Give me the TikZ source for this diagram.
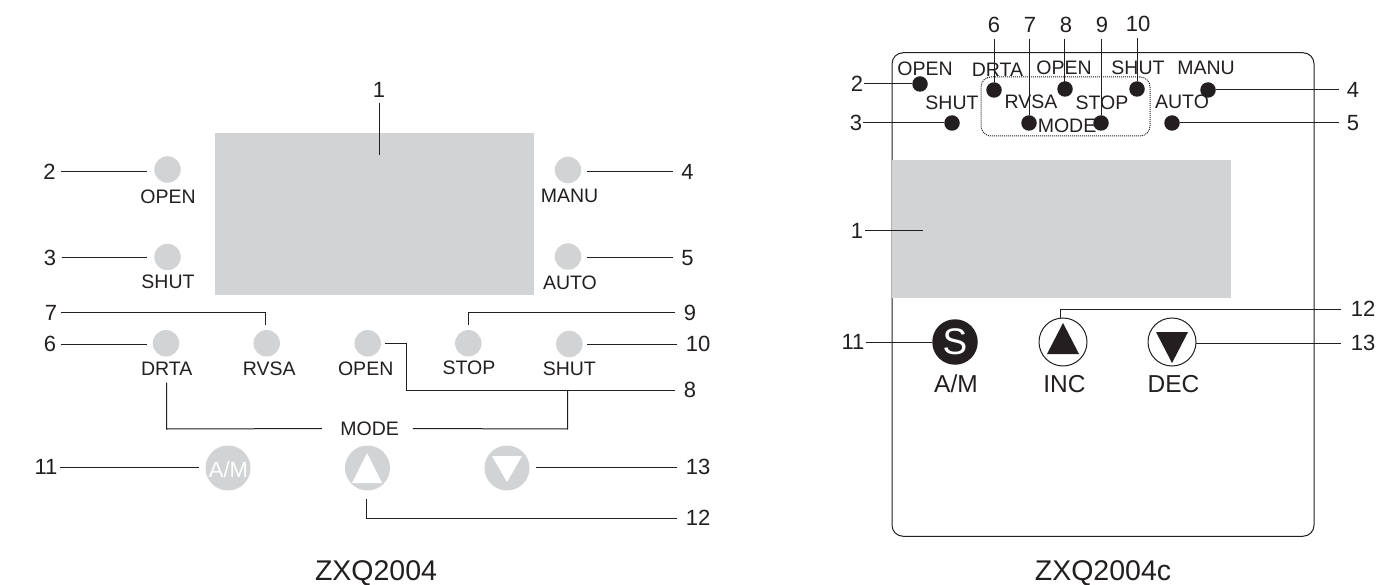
\documentclass[tikz,border=0pt]{standalone}
\usepackage{fontspec}
\setmainfont{Liberation Sans}
\definecolor{panelgray}{HTML}{D1D3D4}
\definecolor{ink}{HTML}{231F20}
\tikzset{
  txt/.style={inner sep=0pt,outer sep=0pt,text=ink,font=\fontsize{19.5}{19.5}\selectfont},
  bigt/.style={inner sep=0pt,outer sep=0pt,text=ink,font=\fontsize{24.5}{24.5}\selectfont},
  num/.style={inner sep=0pt,outer sep=0pt,text=ink,font=\fontsize{22}{22}\selectfont},
  captxt/.style={inner sep=0pt,outer sep=0pt,text=ink,font=\fontsize{28.5}{28.5}\selectfont},
  lead/.style={draw=ink,line width=1pt},
  ledg/.style={circle,fill=panelgray,minimum size=26.5pt,inner sep=0pt,outer sep=0pt},
  ledb/.style={circle,fill=ink,minimum size=15.5pt,inner sep=0pt,outer sep=0pt},
  btng/.style={circle,fill=panelgray,minimum size=45pt,inner sep=0pt,outer sep=0pt},
  btno/.style={circle,draw=ink,line width=1pt,fill=white,minimum size=48pt,inner sep=0pt,outer sep=0pt},
  screen/.style={fill=panelgray,draw=none,inner sep=0pt,outer sep=0pt}
}
\begin{document}
\begin{tikzpicture}[x=1pt,y=-1pt]
\useasboundingbox (0,0) rectangle (1394,585);
\fill[white] (0,0) rectangle (1394,585);
% ---------- left panel ----------
\node[screen,minimum width=319pt,minimum height=162pt] (ls) at (374,214) {};
\node[ledg] (la) at (167.5,169.5) {};
\node[ledg] (lb) at (167.5,257) {};
\node[ledg] (lc) at (568,170) {};
\node[ledg] (ld) at (568,256.5) {};
\node[ledg] (le) at (166,343.3) {};
\node[ledg] (lf) at (266.7,343.3) {};
\node[ledg] (lg) at (367.7,343.3) {};
\node[ledg] (lh) at (468.3,343.3) {};
\node[ledg] (li) at (569.3,344) {};
\node[txt] (ta) at (168,197) {OPEN};
\node[txt] (tb) at (168,282) {SHUT};
\node[txt] (tc) at (569.5,196) {MANU};
\node[txt] (td) at (570,283) {AUTO};
\node[txt] (te) at (166.7,369) {DRTA};
\node[txt] (tf) at (269.3,369) {RVSA};
\node[txt] (tg) at (365.7,369) {OPEN};
\node[txt] (th) at (469,367.7) {STOP};
\node[txt] (ti) at (569.3,369) {SHUT};
\node[txt] (tm) at (369.7,428.5) {MODE};
\node[btng] (lam) at (228,468) {};
\node[inner sep=0pt,text=white,font=\fontsize{22}{22}\selectfont] at (228.5,470) {A/M};
\node[btng] (lup) at (367.5,468) {};
\fill[white] (367,453) -- (382,483) -- (352,483) -- cycle;
\node[btng] (ldn) at (507,468) {};
\fill[white] (492,456) -- (522,456) -- (507,482) -- cycle;
% numbers
\node[num] (n1) at (379,90) {1};
\node[num] (n2) at (49.5,172) {2};
\node[num] (n3) at (50,258) {3};
\node[num] (n4) at (687.5,172) {4};
\node[num] (n5) at (687.5,258) {5};
\node[num] (n6) at (50,344) {6};
\node[num] (n7) at (51,312.7) {7};
\node[num] (n8) at (690,390) {8};
\node[num] (n9) at (690,312.7) {9};
\node[num] (n10) at (698,344) {10};
\node[num] (n11) at (46,467) {11};
\node[num] (n12) at (698,518) {12};
\node[num] (n13) at (698,467) {13};
\coordinate (e1) at (379,155);
\draw[lead,shorten <=5pt] (n1.south) -- (e1);
\draw[lead,shorten <=5.5pt,shorten >=7pt] (n2.east) -- (la.west |- n2.east);
\draw[lead,shorten <=5.5pt,shorten >=7pt] (n3.east) -- (lb.west |- n3.east);
\draw[lead,shorten <=8.5pt,shorten >=6pt] (n4.west) -- (lc.east |- n4.west);
\draw[lead,shorten <=8.5pt,shorten >=6pt] (n5.west) -- (ld.east |- n5.west);
\draw[lead,shorten <=5pt,shorten >=6pt] (n6.east) -- (le.west |- n6.east);
\draw[lead,shorten <=8.5pt,shorten >=4.5pt] (n10.west) -- (li.east |- n10.west);
\draw[lead,shorten <=3pt,shorten >=7pt] (n11.east) -- (lam.west |- n11.east);
\draw[lead,shorten <=8.5pt,shorten >=6pt] (n13.west) -- (ldn.east |- n13.west);
\draw[lead,shorten <=4pt,shorten >=5.5pt] (n7.east) -| (lf.north -| 265.7,0);
\draw[lead,shorten <=8.5pt,shorten >=5.5pt] (n9.west) -| (lh.north);
\draw[lead,shorten <=8.5pt,shorten >=4pt] (n8.west) -- (406.7,390) -- (406.7,343.3) -- (lg.east);
\coordinate (j8) at (567.7,390);
\draw[lead,shorten >=18.5pt] (te.south) ++(0,7) -- (166.7,429) -- (tm.west);
\draw[lead,shorten >=14pt] (j8) -- (567.7,429) -- (tm.east);
\coordinate (c12) at (366,490.5);
\draw[lead,shorten <=9pt,shorten >=8.5pt] (n12.west) -| (c12);
\node[captxt] (cl) at (376,573) {ZXQ2004};
% ---------- right panel ----------
\node[draw=ink,line width=1pt,rounded corners=11pt,minimum width=422pt,minimum height=483.5pt,inner sep=0pt,outer sep=0pt] (rp) at (1103,294.5) {};
\node[screen,minimum width=339pt,minimum height=138pt] (rs) at (1061.5,229) {};
\node[draw=ink,line width=1pt,densely dotted,rounded corners=10pt,minimum width=169pt,minimum height=59pt,inner sep=0pt,outer sep=0pt] (rd) at (1065.5,106.5) {};
\node[txt] (ra) at (925,69) {OPEN};
\node[txt] (rb) at (997.5,70) {DRTA};
\node[txt] (rc) at (1064,68) {OPEN};
\node[txt] (re) at (1138,68) {SHUT};
\node[txt] (rf) at (1206,68) {MANU};
\node[txt] (rg) at (952,103) {SHUT};
\node[txt] (rh) at (1031,102) {RVSA};
\node[txt] (ri) at (1102,103) {STOP};
\node[txt] (rj) at (1182,102) {AUTO};
\node[txt] (rm) at (1067,126) {MODE};
\node[ledb] (oa) at (920,84) {};
\node[ledb] (ob) at (994,90) {};
\node[ledb] (oc) at (1065,89) {};
\node[ledb] (od) at (1137,89) {};
\node[ledb] (oe) at (1208,90) {};
\node[ledb] (of) at (952,123) {};
\node[ledb] (og) at (1029,123) {};
\node[ledb] (oh) at (1101,123) {};
\node[ledb] (oi) at (1172,123) {};
\node[num] (m1) at (857,231) {1};
\node[num] (m2) at (857,84) {2};
\node[num] (m3) at (856,123) {3};
\node[num] (m4) at (1353,90) {4};
\node[num] (m5) at (1353,123) {5};
\node[num] (m6) at (994,25) {6};
\node[num] (m7) at (1030,25) {7};
\node[num] (m8) at (1066,25) {8};
\node[num] (m9) at (1102,25) {9};
\node[num] (m10) at (1138,24) {10};
\node[num] (m11) at (853,342) {11};
\node[num] (m12) at (1363,309) {12};
\node[num] (m13) at (1363,343) {13};
\coordinate (f1) at (923,231);
\draw[lead,shorten <=2pt] (m1.east) -- (f1);
\draw[lead,shorten <=1pt] (m2.east) -- (oa);
\draw[lead,shorten <=1pt] (m3.east) -- (of);
\draw[lead,shorten <=8pt] (m4.west) -- (oe);
\draw[lead,shorten <=8pt] (m5.west) -- (oi);
\draw[lead,shorten <=6pt] (m6.south) -- (ob);
\draw[lead,shorten <=6pt] (m7.south -| og) -- (og);
\draw[lead,shorten <=6pt] (m8.south -| 1064,0) -- (oc.center -| 1064,0);
\draw[lead,shorten <=6pt] (m9.south -| oh) -- (oh);
\draw[lead,shorten <=6pt] (m10.south -| od) -- (od);
\node[circle,fill=ink,minimum size=45.5pt,inner sep=0pt,outer sep=0pt] (rs1) at (955,342) {};
\node[inner sep=0pt,text=white,font=\fontsize{37}{37}\selectfont] at (rs1) {S};
\node[btno] (rup) at (1063,342) {};
\fill[ink] (1063,323) -- (1079,354) -- (1047,354) -- cycle;
\node[btno] (rdn) at (1172,342) {};
\fill[ink] (1156,332) -- (1188,332) -- (1172,363) -- cycle;
\node[bigt] (r1) at (956,384) {A/M};
\node[bigt] (r2) at (1064.5,384) {INC};
\node[bigt] (r3) at (1173.5,384) {DEC};
\draw[lead,shorten <=2pt] (m11.east) -- (rs1.west);
\coordinate (c12r) at (1060,318);
\draw[lead,shorten <=10pt] (m12.west) -| (c12r);
\draw[lead,shorten <=10pt] (m13.west) -- (rdn.east |- m13.west);
\node[captxt] (cr) at (1103,573) {ZXQ2004c};
\end{tikzpicture}
\end{document}
